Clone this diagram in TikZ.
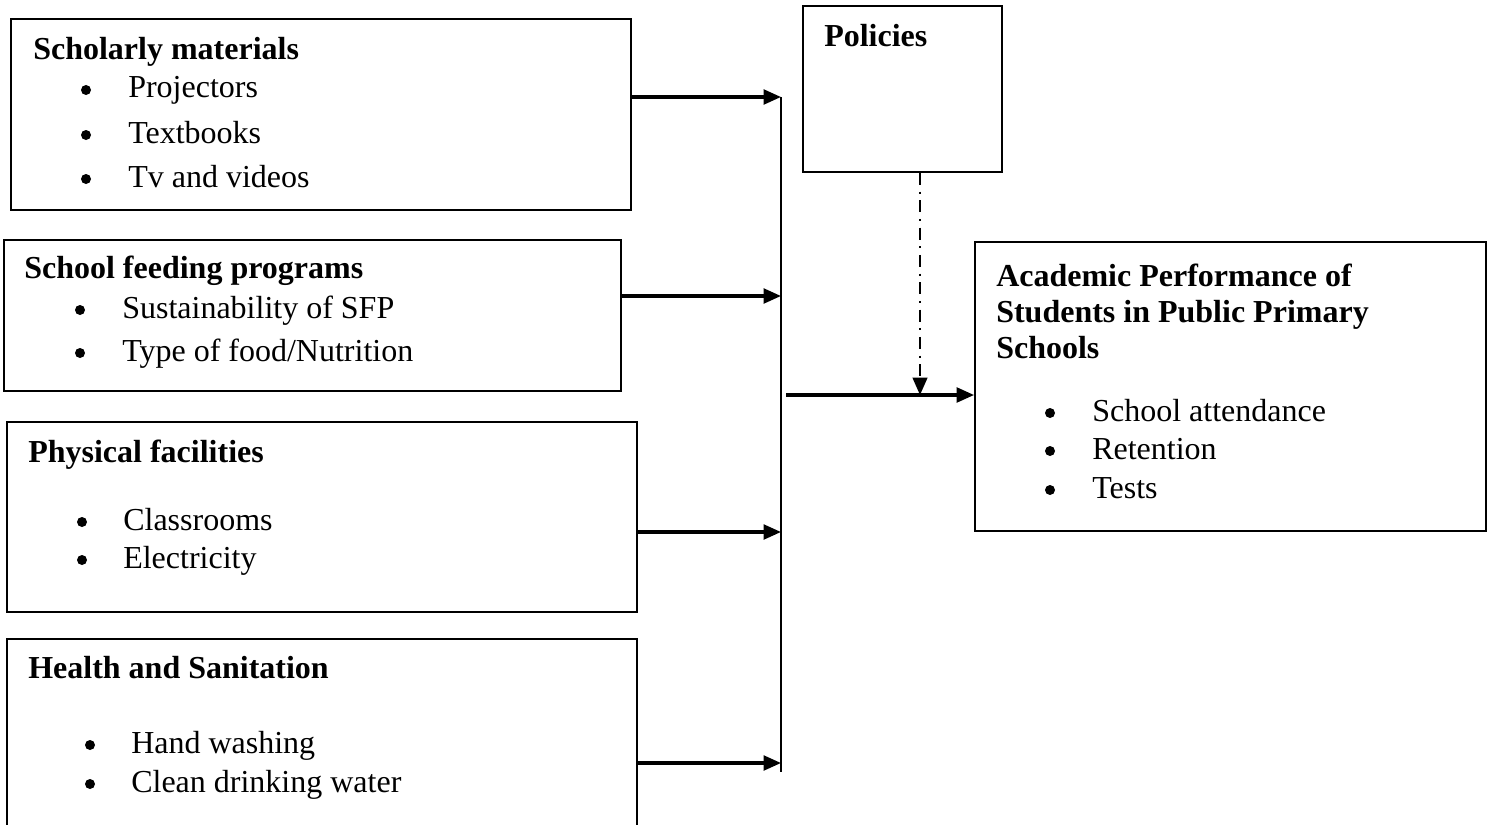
\documentclass[tikz,border=0pt]{standalone}
\usepackage{fontspec}
\setmainfont{Liberation Serif}
\usetikzlibrary{arrows.meta}

\newcommand{\bodysize}{\fontsize{24}{28}\selectfont}

\tikzset{
  box/.style 2 args={draw, line width=1.4pt, inner sep=0pt, minimum width=#1*0.75pt, minimum height=#2*0.75pt},
  head/.style={anchor=base west, inner sep=0pt, font=\bodysize\bfseries},
  item/.style={anchor=base west, inner sep=0pt},
  dot/.style={circle, fill, inner sep=0pt, minimum size=7.5pt, yshift=8*0.75pt},
  feed/.style={line width=2.3pt, -{Triangle[length=13pt,width=11pt]}},
  trunk/.style={line width=1.5pt},
  policy/.style={line width=1.6pt, dash pattern=on 9pt off 5pt on 1.5pt off 5pt, -{Triangle[length=13pt,width=11pt]}}
}

\begin{document}
\begin{tikzpicture}[x=0.75pt,y=0.75pt,yscale=-1,xscale=1,font=\bodysize]
\useasboundingbox (0,0) rectangle (1491,824);

%Shape: Rectangle [scholarly materials]
\node (sm) [box={620}{191}] at (321,114.5) {};
%Shape: Rectangle [school feeding]
\node (sfp) [box={617}{151}] at (312.5,315.5) {};
%Shape: Rectangle [physical facilities]
\node (pf) [box={630}{190}] at (322,517) {};
%Shape: Rectangle [health and sanitation]
\node (hs) [box={630}{201}] at (322,739.5) {};
%Shape: Rectangle [policies]
\node (pol) [box={199}{166}] at (902.5,89) {};
%Shape: Rectangle [academic performance]
\node (ap) [box={511}{289}] at (1230.5,386.5) {};

% Text Node
\node (smh) [head] at (33,60) {Scholarly materials};
\node (smb1) [dot] at (86,98) {};
\node (smi1) [item] at (128,98) {Projectors};
\node (smb2) [dot] at (86,143) {};
\node (smi2) [item] at (128,143) {Textbooks};
\node (smb3) [dot] at (86,187) {};
\node (smi3) [item] at (128,187) {Tv and videos};
% Text Node
\node (sfph) [head] at (24,278) {School feeding programs};
\node (sfpb1) [dot] at (80,318) {};
\node (sfpi1) [item] at (122,318) {Sustainability of SFP};
\node (sfpb2) [dot] at (80,361) {};
\node (sfpi2) [item] at (122,361) {Type of food/Nutrition};
% Text Node
\node (pfh) [head] at (28,462) {Physical facilities};
\node (pfb1) [dot] at (82,530) {};
\node (pfi1) [item] at (123,530) {Classrooms};
\node (pfb2) [dot] at (82,568) {};
\node (pfi2) [item] at (123,568) {Electricity};
% Text Node
\node (hsh) [head] at (28,678) {Health and Sanitation};
\node (hsb1) [dot] at (90,753) {};
\node (hsi1) [item] at (131,753) {Hand washing};
\node (hsb2) [dot] at (90,792) {};
\node (hsi2) [item] at (131,792) {Clean drinking water};
% Text Node
\node (polh) [head] at (824,47) {Policies};
% Text Node
\node (aph1) [head] at (996,286) {Academic Performance of};
\node (aph2) [head] at (996,322) {Students in Public Primary};
\node (aph3) [head] at (996,358) {Schools};
\node (apb1) [dot] at (1050,421) {};
\node (api1) [item] at (1092,421) {School attendance};
\node (apb2) [dot] at (1050,459) {};
\node (api2) [item] at (1092,459) {Retention};
\node (apb3) [dot] at (1050,498) {};
\node (api3) [item] at (1092,498) {Tests};

%Straight Lines [collector]
\coordinate (t1) at (781,97);
\coordinate (t2) at (781,296);
\coordinate (t3) at (781,532);
\coordinate (t4) at (781,763);
\coordinate (tend) at (781,772);
\draw [trunk] (t1) -- (tend);
\draw [feed] (sm.east |- t1) -- (t1);
\draw [feed] (sfp.east |- t2) -- (t2);
\draw [feed] (pf.east |- t3) -- (t3);
\draw [feed] (hs.east |- t4) -- (t4);

%Straight Lines [to outcome]
\coordinate (jn) at (786,395);
\draw [feed] (jn) -- (ap.west |- jn);
%Straight Lines [policy influence]
\coordinate (pj) at (920,395);
\draw [policy] (pol.south -| pj) -- (pj);

\end{tikzpicture}
\end{document}
